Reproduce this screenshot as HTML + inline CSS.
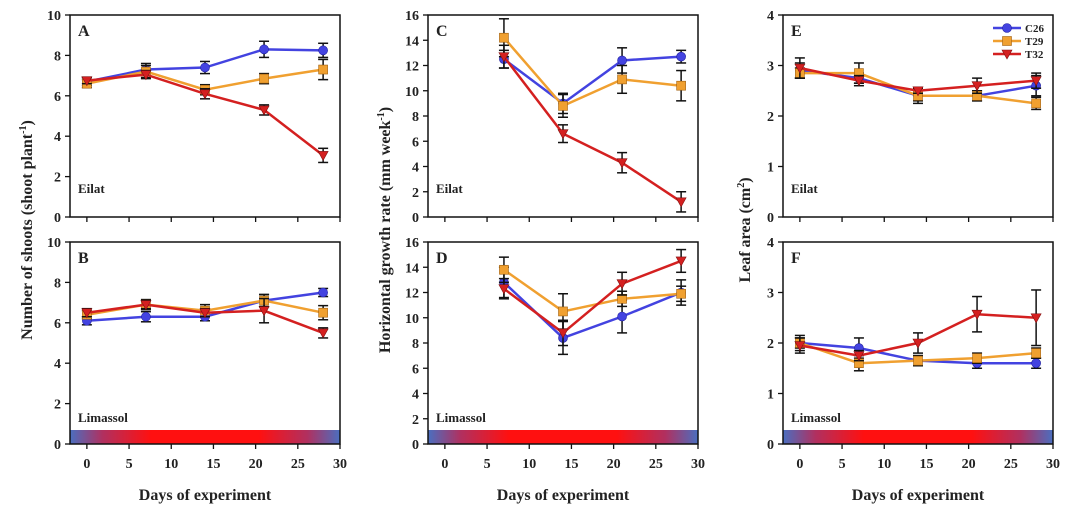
<!DOCTYPE html>
<html><head><meta charset="utf-8"><style>
body{margin:0;background:#fff;width:1080px;height:514px;overflow:hidden}
svg{display:block}
text{font-family:"Liberation Serif",serif;font-weight:bold;fill:#222}
</style></head><body>
<svg id="chart" width="1080" height="514" viewBox="0 0 1080 514" xmlns="http://www.w3.org/2000/svg">
<defs>
<linearGradient id="grad" x1="0" x2="1" y1="0" y2="0">
<stop offset="0" stop-color="#4a6fc0"/><stop offset="0.12" stop-color="#b03060"/><stop offset="0.3" stop-color="#ff1010"/><stop offset="0.7" stop-color="#ff1010"/><stop offset="0.88" stop-color="#b03060"/><stop offset="1" stop-color="#4a6fc0"/>
</linearGradient>
</defs>
</svg>
<script>
const days = [0, 7, 14, 21, 28];
const daysC = [7, 14, 21, 28];
const seriesNames = ["C26", "T29", "T32"];
const xTicks = [0, 5, 10, 15, 20, 25, 30];
const aC26 = [6.7, 7.3, 7.4, 8.3, 8.25], aC26e = [0.2, 0.3, 0.3, 0.4, 0.35];
const aT29 = [6.6, 7.2, 6.3, 6.85, 7.3], aT29e = [0.2, 0.3, 0.25, 0.25, 0.5];
const aT32 = [6.75, 7.05, 6.1, 5.3, 3.05], aT32e = [0.15, 0.2, 0.25, 0.25, 0.35];
const bC26 = [6.1, 6.3, 6.3, 7.1, 7.5], bC26e = [0.2, 0.25, 0.2, 0.3, 0.2];
const bT29 = [6.4, 6.9, 6.6, 7.1, 6.5], bT29e = [0.2, 0.25, 0.3, 0.3, 0.35];
const bT32 = [6.5, 6.9, 6.5, 6.6, 5.5], bT32e = [0.2, 0.2, 0.2, 0.6, 0.25];
const cC26 = [12.5, 9.0, 12.4, 12.7], cC26e = [0.7, 0.8, 1.0, 0.5];
const cT29 = [14.2, 8.8, 10.9, 10.4], cT29e = [1.5, 0.9, 1.1, 1.2];
const cT32 = [12.7, 6.6, 4.3, 1.2], cT32e = [0.9, 0.7, 0.8, 0.8];
const dC26 = [12.8, 8.4, 10.1, 12.0], dC26e = [1.2, 1.3, 1.3, 1.0];
const dT29 = [13.8, 10.5, 11.5, 11.9], dT29e = [1.0, 1.4, 0.6, 0.6];
const dT32 = [12.3, 8.8, 12.7, 14.5], dT32e = [0.8, 1.0, 0.9, 0.9];
const eC26 = [2.9, 2.75, 2.4, 2.4, 2.6], eC26e = [0.15, 0.1, 0.15, 0.1, 0.2];
const eT29 = [2.85, 2.85, 2.4, 2.4, 2.25], eT29e = [0.1, 0.2, 0.1, 0.1, 0.12];
const eT32 = [2.95, 2.7, 2.5, 2.6, 2.7], eT32e = [0.2, 0.1, 0.05, 0.15, 0.15];
const fC26 = [2.0, 1.9, 1.65, 1.6, 1.6], fC26e = [0.15, 0.2, 0.1, 0.1, 0.1];
const fT29 = [2.0, 1.6, 1.65, 1.7, 1.8], fT29e = [0.1, 0.15, 0.1, 0.1, 0.1];
const fT32 = [1.95, 1.75, 2.0, 2.57, 2.5], fT32e = [0.15, 0.1, 0.2, 0.35, 0.55];
const colors = ["#4343e0", "#f0a030", "#d42020"];
const svg = document.getElementById('chart');
const NS = "http://www.w3.org/2000/svg";
function el(tag, attrs, parent) {
  const e = document.createElementNS(NS, tag);
  for (const k in attrs) e.setAttribute(k, attrs[k]);
  (parent || svg).appendChild(e);
  return e;
}
function txt(x, y, s, size, anchor, parent, extra) {
  const t = el('text', Object.assign({x: x, y: y, 'font-size': size, 'text-anchor': anchor || 'middle'}, extra || {}), parent);
  t.textContent = s;
  return t;
}
function marker(g, type, x, y, c) {
  let m;
  if (type === 0) m = el('circle', {cx: x, cy: y, r: 4.5, fill: c, stroke: '#2020a0', 'stroke-width': 0.6}, g);
  else if (type === 1) m = el('rect', {x: x - 4.5, y: y - 4.5, width: 9, height: 9, fill: c, stroke: '#a06010', 'stroke-width': 0.6}, g);
  else m = el('polygon', {points: `${x-5},${y-4} ${x+5},${y-4} ${x},${y+5}`, fill: c, stroke: '#801010', 'stroke-width': 0.6}, g);
  return m;
}
function panel(p) {
  const g = el('g', {});
  
  
  const L = p.left, R = p.left + 270, T = p.top, B = p.top + 202;
  const xs = d => L + (d + 2) / 32 * 270;
  const ys = v => B - v / p.ymax * 202;
  if (p.bar) {
    const bar = el('rect', {x: L, y: B - 14, width: R - L, height: 14, fill: 'url(#grad)'}, g);
    
    
  }
  el('rect', {x: L, y: T, width: R - L, height: B - T, fill: 'none', stroke: '#111', 'stroke-width': 1.5}, g);
  for (let v = 0; v <= p.ymax; v += p.ystep) {
    el('line', {x1: L - 5, x2: L, y1: ys(v), y2: ys(v), stroke: '#111', 'stroke-width': 1.3}, g);
    txt(L - 9, ys(v) + 5, String(v), 14, 'end', g);
  }
  xTicks.forEach(d => {
    el('line', {x1: xs(d), x2: xs(d), y1: B, y2: B + 5, stroke: '#111', 'stroke-width': 1.3}, g);
    if (p.xlabels) txt(xs(d), B + 24, String(d), 14, 'middle', g);
  });
  txt(L + 8, T + 21, p.label, 16, 'start', g, {'font-family': 'Liberation Sans, sans-serif'});
  txt(L + 8, B - (p.bar ? 22 : 24), p.site, 13, 'start', g);
  p.series.forEach((s, i) => {
    const sg = el('g', {}, g);
    
    
    const pts = p.x.map((d, j) => xs(d) + ',' + ys(s[0][j])).join(' ');
    el('polyline', {points: pts, fill: 'none', stroke: colors[i], 'stroke-width': 2.5}, sg);
    p.x.forEach((d, j) => {
      const x = xs(d), y1 = ys(s[0][j] + s[1][j]), y2 = ys(s[0][j] - s[1][j]);
      el('line', {x1: x, x2: x, y1: y1, y2: y2, stroke: '#111', 'stroke-width': 1.5}, sg);
      el('line', {x1: x - 5, x2: x + 5, y1: y1, y2: y1, stroke: '#111', 'stroke-width': 1.5}, sg);
      el('line', {x1: x - 5, x2: x + 5, y1: y2, y2: y2, stroke: '#111', 'stroke-width': 1.5}, sg);
    });
    p.x.forEach((d, j) => {
      const m = marker(sg, i, xs(d), ys(s[0][j]), colors[i]);
      
      
    });
  });
  if (p.legend) {
    const lg = el('g', {}, g);
    
    
    seriesNames.forEach((n, i) => {
      const y = T + 13 + i * 13;
      el('line', {x1: R - 60, x2: R - 32, y1: y, y2: y, stroke: colors[i], 'stroke-width': 2.5}, lg);
      marker(lg, i, R - 46, y, colors[i]);
      txt(R - 28, y + 4, n, 11, 'start', lg);
    });
  }
}
panel({label: 'A', site: 'Eilat', left: 70, top: 15, ymax: 10, ystep: 2, x: days, series: [[aC26, aC26e], [aT29, aT29e], [aT32, aT32e]]});
panel({label: 'B', site: 'Limassol', left: 70, top: 242, ymax: 10, ystep: 2, x: days, bar: true, xlabels: true, series: [[bC26, bC26e], [bT29, bT29e], [bT32, bT32e]]});
panel({label: 'C', site: 'Eilat', left: 428, top: 15, ymax: 16, ystep: 2, x: daysC, series: [[cC26, cC26e], [cT29, cT29e], [cT32, cT32e]]});
panel({label: 'D', site: 'Limassol', left: 428, top: 242, ymax: 16, ystep: 2, x: daysC, bar: true, xlabels: true, series: [[dC26, dC26e], [dT29, dT29e], [dT32, dT32e]]});
panel({label: 'E', site: 'Eilat', left: 783, top: 15, ymax: 4, ystep: 1, x: days, legend: true, series: [[eC26, eC26e], [eT29, eT29e], [eT32, eT32e]]});
panel({label: 'F', site: 'Limassol', left: 783, top: 242, ymax: 4, ystep: 1, x: days, bar: true, xlabels: true, series: [[fC26, fC26e], [fT29, fT29e], [fT32, fT32e]]});
[[205, 'x-axis-title-1'], [563, 'x-axis-title-2'], [918, 'x-axis-title-3']].forEach(a => {
  const t = txt(a[0], 500, 'Days of experiment', 16, 'middle');
  
  
});
function ytitle(x, html, name) {
  const t = el('text', {x: 0, y: 0, 'font-size': 16, 'text-anchor': 'middle', transform: `translate(${x},230) rotate(-90)`});
  t.innerHTML = html;
  
  
}
ytitle(32, 'Number of shoots (shoot plant<tspan dy="-6" font-size="10">-1</tspan><tspan dy="6">)</tspan>', 'y-axis-title-shoots');
ytitle(390, 'Horizontal growth rate (mm week<tspan dy="-6" font-size="10">-1</tspan><tspan dy="6">)</tspan>', 'y-axis-title-growth');
ytitle(750, 'Leaf area (cm<tspan dy="-6" font-size="10">2</tspan><tspan dy="6">)</tspan>', 'y-axis-title-leaf-area');
</script>
</body></html>
